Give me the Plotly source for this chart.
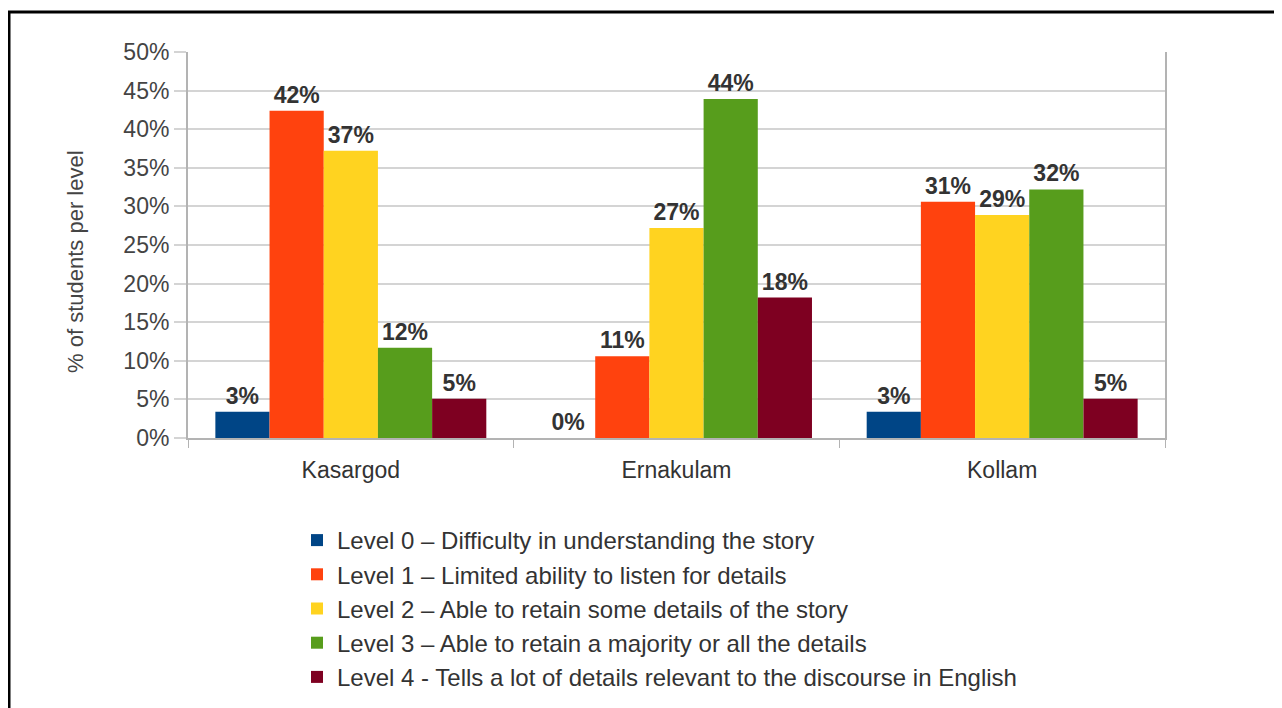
import plotly.graph_objects as go

categories = ["Kasargod", "Ernakulam", "Kollam"]
levels = [
    "Level 0 – Difficulty in understanding the story",
    "Level 1 – Limited ability to listen for details",
    "Level 2 – Able to retain some details of the story",
    "Level 3 – Able to retain a majority or all the details",
    "Level 4 - Tells a lot of details relevant to the discourse in English",
]
level0 = [3.4, 0.0, 3.4]
level1 = [42.4, 10.6, 30.6]
level2 = [37.2, 27.2, 28.9]
level3 = [11.7, 43.9, 32.2]
level4 = [5.1, 18.2, 5.1]
series = [level0, level1, level2, level3, level4]
colors = ["#004586", "#ff420e", "#ffd320", "#579d1c", "#7e0021"]
y_ticks = [0, 5, 10, 15, 20, 25, 30, 35, 40, 45, 50]
y_tick_labels = ["0%", "5%", "10%", "15%", "20%", "25%", "30%", "35%", "40%", "45%", "50%"]
y_title = "% of students per level"

FONT = "Liberation Sans, Arial, sans-serif"
OFF = 8  # page body margin
W, H = 1282 - OFF, 708 - OFF
# plot area in page pixels: x 188..1165, y 52..438
L, T = 188 - OFF, 52 - OFF
R = W - (1165 - OFF)
B = H - (438 - OFF)
pw, ph = W - L - R, H - T - B

fig = go.Figure()
for name, vals, col in zip(levels, series, colors):
    fig.add_trace(go.Bar(
        x=categories, y=vals, name=name,
        marker=dict(color=col, line=dict(width=0)),
        text=vals, texttemplate="%{y:.0f}%", textposition="outside",
        textangle=0, constraintext="none", cliponaxis=False,
        textfont=dict(family=FONT, size=23, color="#333333", weight="bold"),
    ))

def px_x(x):  # page px -> paper
    return (x - OFF - L) / pw

def px_y(y):
    return 1 - (y - OFF - T) / ph

shapes = [
    dict(type="line", xref="paper", yref="paper", x0=px_x(9), x1=px_x(9), y0=px_y(11), y1=px_y(720),
         line=dict(color="black", width=3)),
    dict(type="line", xref="paper", yref="paper", x0=px_x(8), x1=px_x(1290), y0=px_y(12), y1=px_y(12),
         line=dict(color="black", width=3)),
    dict(type="line", xref="paper", yref="paper", x0=px_x(1280.5), x1=px_x(1280.5), y0=px_y(12), y1=px_y(720),
         line=dict(color="#999999", width=1)),
]

fig.update_layout(
    width=W, height=H,
    margin=dict(l=L, r=R, t=T, b=B, autoexpand=False),
    paper_bgcolor="white", plot_bgcolor="white",
    barmode="group", bargap=0.168, bargroupgap=0,
    font=dict(family=FONT, size=22, color="#444444"),
    shapes=shapes,
    annotations=[dict(
        text=y_title, textangle=-90, xref="paper", yref="paper",
        x=px_x(75), y=px_y(262), xanchor="center", yanchor="middle", showarrow=False,
        font=dict(family=FONT, size=22, color="#444444"),
    )],
    showlegend=True,
    legend=dict(
        x=px_x(297), y=px_y(518), xanchor="left", yanchor="top",
        orientation="v", font=dict(family=FONT, size=24, color="#333333"),
        bgcolor="rgba(0,0,0,0)", itemwidth=30, tracegroupgap=0,
    ),
    xaxis=dict(
        type="category", showgrid=False, showline=True, linecolor="#b3b3b3", linewidth=2,
        mirror=False, ticks="outside", tickson="boundaries", ticklen=8, tickcolor="#b3b3b3",
        ticklabelstandoff=10,
        tickfont=dict(family=FONT, size=23, color="#333333"), zeroline=False,
    ),
    yaxis=dict(
        range=[0, 50], tickmode="array", tickvals=y_ticks, ticktext=y_tick_labels,
        showgrid=True, gridcolor="#d4d4d4", gridwidth=2,
        showline=True, linecolor="#b3b3b3", linewidth=2, mirror=True,
        ticks="outside", ticklen=12, tickcolor="#d4d4d4", tickwidth=2,
        tickfont=dict(family=FONT, size=23, color="#444444"), zeroline=False,
    ),
)

fig.write_html("out.html")
